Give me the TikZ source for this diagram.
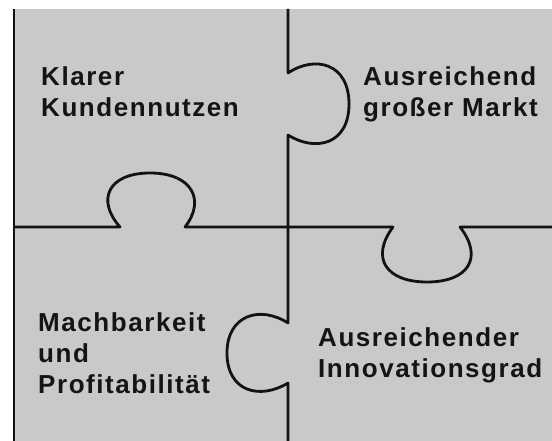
\documentclass[tikz,border=0pt]{standalone}
\usepackage{fontspec}
\setmainfont{Liberation Sans}[LetterSpace=6]

\begin{document}
\begin{tikzpicture}[x=1pt, y=-1pt,
  feld/.style={font=\fontsize{26}{31}\selectfont\bfseries, anchor=base west,
    align=left, inner sep=0pt, text=black!92},
  kante/.style={line width=2.8pt, draw=black!93, line join=round}]

% Farben
\definecolor{puzzleGrau}{HTML}{C9CAC7}

\useasboundingbox (0,0) rectangle (552,441);

% Hintergrund
\fill[puzzleGrau] (14,9) rectangle (552,441);

% Linker Rand
\draw[kante] (14,9) -- (14,441);

% Senkrechte Naht mit zwei Nasen
\draw[kante] (288,9) -- (288,73)
  .. controls (315,55) and (349,63) .. (349,104)
  .. controls (349,145) and (315,152) .. (288,135)
  -- (288,323)
  .. controls (260,305) and (227,315) .. (227,353)
  .. controls (227,392) and (260,400) .. (288,383)
  -- (288,441);

% Waagrechte Naht mit zwei Nasen
\draw[kante] (14,227) -- (120,227)
  .. controls (96,200) and (108,173) .. (150,173)
  .. controls (192,173) and (206,200) .. (185,227)
  -- (393,227)
  .. controls (370,258) and (386,282) .. (427,282)
  .. controls (468,282) and (484,258) .. (460,227)
  -- (552,227);

% Beschriftungen (Anker = Grundlinie der letzten Zeile)
\node[feld] (kunde) at (41,117) {Klarer\\Kundennutzen};
\node[feld] (markt) at (363,117) {Ausreichend\\großer Markt};
\node[feld] (machbar) at (38,393) {Machbarkeit\\und\\Profitabilität};
\node[feld] (innov) at (318,377) {Ausreichender\\Innovationsgrad};

\end{tikzpicture}
\end{document}
